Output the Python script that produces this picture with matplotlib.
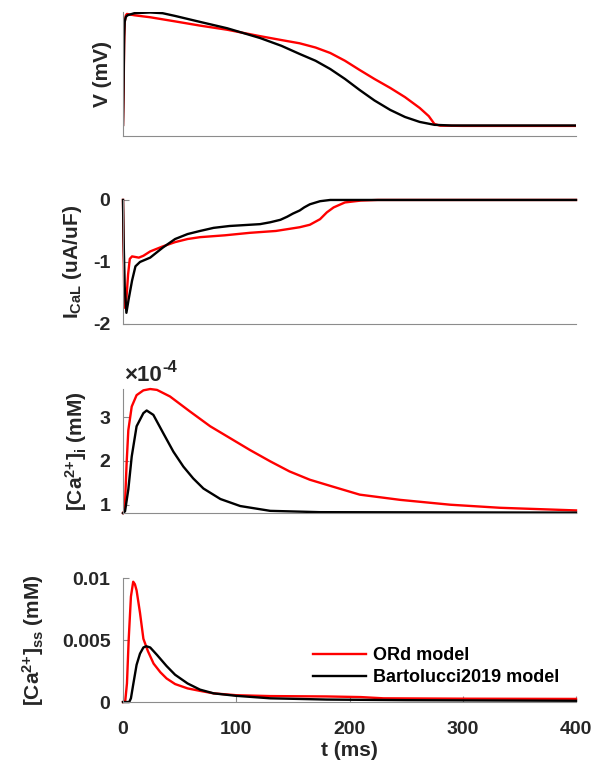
import matplotlib
matplotlib.use("Agg")
import matplotlib.pyplot as plt
from matplotlib.ticker import FuncFormatter

plt.rcParams["font.family"] = ["Liberation Sans", "DejaVu Sans"]
plt.rcParams["font.weight"] = "bold"
plt.rcParams["axes.unicode_minus"] = False
plt.rcParams["mathtext.fontset"] = "custom"
plt.rcParams["mathtext.rm"] = "Liberation Sans:bold"
plt.rcParams["mathtext.it"] = "Liberation Sans:bold"
plt.rcParams["mathtext.bf"] = "Liberation Sans:bold"
plt.rcParams["mathtext.sf"] = "Liberation Sans:bold"

# membrane potential (mV)
v_ord_t = [0, 0.5, 1, 1.5, 2.5, 3.5, 10, 24, 46, 68, 92, 120, 140, 156, 170, 183,
           196, 209, 222, 236, 249, 262, 270, 275, 280, 300, 400]
v_ord = [-86.7, -50, 10, 38, 46, 47.6, 46, 43.6, 38.6, 33.5, 28.5, 21, 16, 12.1, 7, 0.4,
         -9, -20.2, -31, -41.9, -53, -66.1, -76, -85.5, -87.5, -87.8, -87.8]
v_bart_t = [0, 0.5, 1, 1.5, 2.5, 4, 10, 24, 35, 46, 68, 92, 121, 140, 156, 170, 183,
            196, 209, 222, 236, 249, 262, 275, 290, 400]
v_bart = [-86.7, -40, 20, 38, 44, 46, 48.5, 49.4, 48.5, 45.2, 38, 30.3, 18.5, 9, -0.8, -9, -19,
          -31, -44.4, -57, -68.5, -77, -83, -86.5, -87.3, -87.3]

# L-type calcium current (uA/uF)
ical_ord_t = [0, 0.5, 1, 1.8, 3, 4.5, 6, 8, 11, 14, 18, 24, 35, 46, 57, 68, 90, 112, 135,
              156, 165, 174, 180, 186, 196, 210, 225, 400]
ical_ord = [0, -0.8, -1.4, -1.74, -1.6, -1.2, -0.95, -0.91, -0.92, -0.93, -0.9, -0.83, -0.75,
            -0.68, -0.63, -0.6, -0.57, -0.53, -0.5, -0.44, -0.4, -0.31, -0.2, -0.12, -0.04,
            -0.01, 0, 0]
ical_bart_t = [0, 0.5, 1.5, 3, 5, 8, 11, 15, 24, 35, 46, 57, 68, 80, 94, 121, 130, 139, 145,
               150, 156, 160, 165, 174, 183, 400]
ical_bart = [0, -0.6, -1.4, -1.82, -1.6, -1.3, -1.07, -1.0, -0.93, -0.77, -0.63, -0.55, -0.5,
             -0.45, -0.42, -0.39, -0.36, -0.32, -0.27, -0.22, -0.17, -0.12, -0.07, -0.02, 0, 0]

# intracellular calcium (mM)
cai_ord_t = [0, 1, 1.8, 3.2, 4.7, 7.7, 12, 18, 24, 30, 41.5, 59, 77, 94.5, 112, 130, 147,
             165, 183, 209, 245, 289, 333, 400]
cai_ord = [0.81e-4, 0.85e-4, 1.04e-4, 1.95e-4, 2.7e-4, 3.24e-4, 3.5e-4, 3.61e-4, 3.64e-4,
           3.62e-4, 3.47e-4, 3.13e-4, 2.79e-4, 2.52e-4, 2.25e-4, 1.99e-4, 1.76e-4, 1.57e-4,
           1.43e-4, 1.23e-4, 1.11e-4, 1.0e-4, 0.93e-4, 0.87e-4]
cai_bart_t = [0, 1.8, 4.7, 7.7, 12, 18, 20.9, 26.8, 35.6, 44.5, 53.3, 62, 71, 86, 103.5,
              130, 174, 400]
cai_bart = [0.81e-4, 0.85e-4, 1.35e-4, 2.1e-4, 2.79e-4, 3.09e-4, 3.15e-4, 3.05e-4, 2.63e-4,
            2.21e-4, 1.87e-4, 1.6e-4, 1.37e-4, 1.13e-4, 0.97e-4, 0.86e-4, 0.83e-4, 0.82e-4]

# subspace calcium (mM)
cass_ord_t = [0, 2, 3.5, 5, 7, 9, 10.5, 12, 15, 18, 22, 27, 33, 38.5, 46, 57, 68, 80, 100,
              130, 180, 210, 230, 300, 400]
cass_ord = [0, 0.0001, 0.0015, 0.005, 0.0085, 0.0097, 0.0095, 0.009, 0.0072, 0.0051, 0.0041,
            0.0031, 0.0024, 0.0019, 0.00145, 0.0011, 0.0009, 0.0007, 0.00055, 0.00048,
            0.00045, 0.0004, 0.0003, 0.00027, 0.00025]
cass_bart_t = [0, 5.5, 7, 9, 12, 15, 18, 20.5, 24, 30, 38.5, 46, 57, 68, 80, 100, 130, 180,
               250, 400]
cass_bart = [0, 0, 0.0003, 0.0014, 0.003, 0.0039, 0.0044, 0.0045, 0.0044, 0.0038, 0.0029,
             0.0022, 0.0015, 0.001, 0.0007, 0.0005, 0.0003, 0.0002, 0.00015, 0.0001]

ical_ticks = [-2, -1, 0]
cai_ticks = [1e-4, 2e-4, 3e-4]
cass_ticks = [0, 0.005, 0.01]
cass_ticklabels = ["0", "0.005", "0.01"]
t_ticks = [0, 100, 200, 300, 400]
labels = ["ORd model", "Bartolucci2019 model"]

spine_col = "#8c8c8c"
text_col = "#262626"

fig = plt.figure(figsize=(6, 7.67), dpi=100)
left, width, height = 0.205, 0.755, 0.1617
bottoms = [0.8227, 0.5776, 0.3311, 0.0847]
axes = [fig.add_axes([left, b, width, height]) for b in bottoms]

for ax in axes:
    ax.spines["top"].set_visible(False)
    ax.spines["right"].set_visible(False)
    ax.spines["left"].set_color(spine_col)
    ax.spines["bottom"].set_color(spine_col)
    ax.set_xlim(0, 400)
    ax.tick_params(direction="in", length=4, color=spine_col, labelcolor=text_col,
                   labelsize=14, width=0.8)
    ax.tick_params(axis="y", pad=9)
    ax.tick_params(axis="x", pad=14)

ax1, ax2, ax3, ax4 = axes
lw = 1.7
lab_kw = dict(fontsize=15, fontweight="bold", color=text_col)

ax1.plot(v_ord_t, v_ord, color="red", lw=lw)
ax1.plot(v_bart_t, v_bart, color="black", lw=lw)
ax1.set_ylim(-100, 50)
ax1.set_yticks([])
ax1.set_xticks([])
ax1.set_ylabel("V (mV)", **lab_kw)
ax1.yaxis.set_label_coords(-0.025, 0.5)

ax2.plot(ical_ord_t, ical_ord, color="red", lw=lw, clip_on=False)
ax2.plot(ical_bart_t, ical_bart, color="black", lw=lw, clip_on=False)
ax2.set_ylim(-2, 0)
ax2.set_yticks(ical_ticks)
ax2.set_xticks([])
ax2.set_ylabel(r"I$_{\mathrm{CaL}}$ (uA/uF)", **lab_kw)
ax2.yaxis.set_label_coords(-0.085, 0.5)

ax3.plot(cai_ord_t, cai_ord, color="red", lw=lw, clip_on=False)
ax3.plot(cai_bart_t, cai_bart, color="black", lw=lw, clip_on=False)
ax3.set_ylim(0.81e-4, 3.64e-4)
ax3.set_yticks(cai_ticks)
ax3.set_xticks([])
ax3.yaxis.set_major_formatter(FuncFormatter(lambda v, p: f"{v * 1e4:g}"))
mult = ax3.annotate("×10", xy=(0, 1), xycoords="axes fraction", xytext=(1, 2),
                    textcoords="offset points", fontsize=16, color=text_col,
                    ha="left", va="bottom")
ax3.annotate("-4", xy=(1, 0.55), xycoords=mult, fontsize=12, color=text_col,
             ha="left", va="bottom")
ax3.set_ylabel(r"[Ca$^{2{+}}$]$_{\mathrm{i}}$ (mM)", **lab_kw)
ax3.yaxis.set_label_coords(-0.075, 0.5)

ax4.plot(cass_ord_t, cass_ord, color="red", lw=lw, label=labels[0], clip_on=False)
ax4.plot(cass_bart_t, cass_bart, color="black", lw=lw, label=labels[1], clip_on=False)
ax4.set_ylim(0, 0.01)
ax4.set_yticks(cass_ticks)
ax4.set_yticklabels(cass_ticklabels)
ax4.set_xticks(t_ticks)
ax4.set_xticklabels([str(t) for t in t_ticks])
ax4.set_ylabel(r"[Ca$^{2{+}}$]$_{\mathrm{ss}}$ (mM)", **lab_kw)
ax4.yaxis.set_label_coords(-0.17, 0.5)
ax4.set_xlabel("t (ms)", labelpad=2, **lab_kw)
ax4.legend(loc="center left", bbox_to_anchor=(0.42, 0.286), frameon=False,
           borderaxespad=0, borderpad=0, handlelength=2.9, handletextpad=0.4,
           labelspacing=0.3, prop={"size": 13, "weight": "bold"})

fig.savefig("out.png", dpi=100)
